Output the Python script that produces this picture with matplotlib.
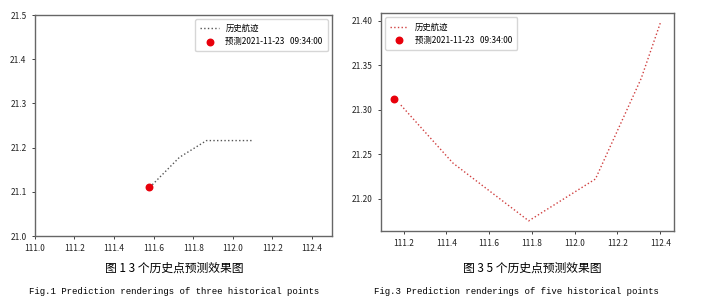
import matplotlib
matplotlib.use("Agg")
import matplotlib.pyplot as plt

plt.rcParams['font.family'] = ['Noto Sans CJK SC', 'DejaVu Sans']

# 图1: 3 个历史点
hist3_x = [111.58, 111.73, 111.867, 112.0, 112.106]
hist3_y = [21.11, 21.178, 21.216, 21.216, 21.216]
pred3_x = [111.574]
pred3_y = [21.11]

# 图3: 5 个历史点
hist5_x = [111.187, 111.43, 111.785, 112.097, 112.311, 112.40]
hist5_y = [21.305, 21.24, 21.175, 21.222, 21.335, 21.397]
pred5_x = [111.156]
pred5_y = [21.3115]

pred_label = "预测2021-11-23   09:34:00"
line_label = "历史航迹"

fig = plt.figure(figsize=(7.12, 3.02), dpi=100)

ax1 = fig.add_axes([0.049, 0.2185, 0.417, 0.7315])
ax1.plot(hist3_x, hist3_y, ':', color='#555555', lw=1.0, label=line_label)
ax1.scatter(pred3_x, pred3_y, s=22, color='#e8000b', zorder=3, label=pred_label)
ax1.set_xlim(111.0, 112.5)
ax1.set_ylim(21.0, 21.5)
ax1.set_xticks([111.0, 111.2, 111.4, 111.6, 111.8, 112.0, 112.2, 112.4])
ax1.set_yticks([21.0, 21.1, 21.2, 21.3, 21.4, 21.5])
ax1.legend(loc='upper right', fontsize=6, frameon=True, borderpad=0.6,
           handlelength=2.2, labelspacing=0.5)

ax2 = fig.add_axes([0.535, 0.236, 0.411, 0.72])
ax2.plot(hist5_x, hist5_y, ':', color='#d04040', lw=1.0, label=line_label)
ax2.scatter(pred5_x, pred5_y, s=22, color='#e8000b', zorder=3, label=pred_label)
ax2.set_xticks([111.2, 111.4, 111.6, 111.8, 112.0, 112.2, 112.4])
ax2.set_yticks([21.20, 21.25, 21.30, 21.35, 21.40])
ax2.yaxis.set_major_formatter(matplotlib.ticker.FormatStrFormatter('%.2f'))
ax2.legend(loc='upper left', fontsize=6, frameon=True, borderpad=0.6,
           handlelength=2.2, labelspacing=0.5)

for ax in (ax1, ax2):
    for sp in ax.spines.values():
        sp.set_color('#666666')
        sp.set_linewidth(1.0)
    ax.tick_params(labelsize=6, length=2.5, width=0.6, colors='#222222')

fig.text(0.245, 0.112, "图 1 3 个历史点预测效果图", ha='center', va='center', fontsize=8.5)
fig.text(0.245, 0.036, "Fig.1 Prediction renderings of three historical points",
         ha='center', va='center', fontsize=6.5, family='Liberation Mono')
fig.text(0.747, 0.112, "图 3 5 个历史点预测效果图", ha='center', va='center', fontsize=8.5)
fig.text(0.725, 0.036, "Fig.3 Prediction renderings of five historical points",
         ha='center', va='center', fontsize=6.5, family='Liberation Mono')

fig.savefig("out.png", dpi=100)
